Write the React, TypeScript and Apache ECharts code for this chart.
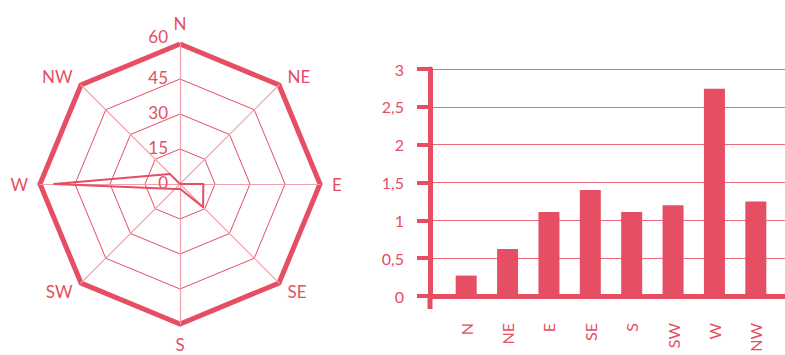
import { useEffect, useRef } from 'react';
import * as echarts from 'echarts';

// Compass sectors, clockwise from north
const directions = ['N', 'NE', 'E', 'SE', 'S', 'SW', 'W', 'NW'];
// Rose values (left panel), same order as directions
const roseValues = [0, 0, 10, 14, 2, 3, 54, 6];
const roseMax = 60;
const roseSplits = 4; // 0, 15, 30, 45, 60
// Bar values (right panel), same order as directions
const barValues = [0.27, 0.62, 1.11, 1.4, 1.11, 1.2, 2.74, 1.25];
const barMin = 0;
const barMax = 3;
const barInterval = 0.5;

const RED = '#e54e63';
const PINK = '#f2a0ab';
const FONT = 'Lato';

// radar indicators run counter-clockwise from the top
const radarOrder = [0, 7, 6, 5, 4, 3, 2, 1];

export default function App() {
  const ref = useRef<HTMLDivElement>(null);

  useEffect(() => {
    document.body.style.margin = '0';
    const chart = echarts.init(ref.current!, undefined, { renderer: 'svg' });

    const tickText = { color: RED, fontFamily: FONT, fontSize: 17 };
    const indicators = radarOrder.map((i, k) => ({
      name: directions[i],
      min: 0,
      max: roseMax,
      ...(k === 0
        ? {
            axisLabel: {
              show: true,
              ...tickText,
              margin: 12,
              formatter: (v: number) => (v === roseMax ? '{top|' + v + '}' : '{t|' + v + '}'),
              rich: {
                t: { ...tickText, padding: [0, 0, 4, 0] },
                top: { ...tickText, padding: [0, 0, 15, 0] },
              },
            },
          }
        : {}),
    }));

    const fmt = (v: number) => String(v).replace('.', ',');

    chart.setOption({
      animation: false,
      textStyle: { fontFamily: FONT },
      radar: [
        {
          center: [180, 184],
          radius: 140,
          startAngle: 90,
          shape: 'polygon',
          splitNumber: roseSplits,
          indicator: indicators,
          axisName: { color: RED, fontFamily: FONT, fontSize: 17 },
          nameGap: 12,
          axisLine: { lineStyle: { color: PINK, width: 1.2 } },
          splitLine: { lineStyle: { color: RED, width: 1 } },
          splitArea: { show: false },
        },
        {
          center: [180, 184],
          radius: 140,
          startAngle: 90,
          shape: 'polygon',
          splitNumber: 1,
          indicator: radarOrder.map(() => ({ name: '', min: 0, max: roseMax })),
          axisName: { show: false },
          axisLine: { show: false },
          splitLine: { lineStyle: { color: RED, width: 5 } },
          splitArea: { show: false },
        },
      ],
      grid: [
        { left: 430, right: 0, top: 69, bottom: 59 },
        { left: 445.5, right: 8.5, top: 69, bottom: 59 },
      ],
      xAxis: [
        {
          gridIndex: 0,
          type: 'category',
          data: directions,
          axisLine: { lineStyle: { color: RED, width: 5 } },
          axisTick: { show: false },
          axisLabel: { show: false },
        },
        {
          gridIndex: 1,
          type: 'category',
          data: directions,
          axisLine: { show: false },
          axisTick: { show: false },
          axisLabel: {
            rotate: 90,
            margin: 27,
            color: RED,
            fontFamily: FONT,
            fontSize: 16,
            interval: 0,
          },
        },
      ],
      yAxis: [
        {
          gridIndex: 0,
          type: 'value',
          min: barMin,
          max: barMax,
          interval: barInterval,
          axisLine: { show: true, lineStyle: { color: RED, width: 5 } },
          axisTick: { show: true, length: 13, lineStyle: { color: RED, width: 4 } },
          axisLabel: { color: RED, fontFamily: FONT, fontSize: 16, margin: 26, formatter: fmt },
          splitLine: { show: true, lineStyle: { color: '#ea6a7c', width: 1 } },
        },
        {
          gridIndex: 1,
          type: 'value',
          min: barMin,
          max: barMax,
          interval: barInterval,
          show: false,
        },
      ],
      series: [
        {
          type: 'radar',
          radarIndex: 0,
          symbol: 'none',
          lineStyle: { color: RED, width: 2 },
          data: [{ value: radarOrder.map((i) => roseValues[i]) }],
        },
        {
          type: 'bar',
          xAxisIndex: 1,
          yAxisIndex: 1,
          barWidth: 21,
          itemStyle: { color: RED },
          data: barValues,
        },
      ],
      graphic: [
        {
          type: 'line',
          shape: { x1: 430, y1: 296, x2: 430, y2: 309 },
          style: { stroke: RED, lineWidth: 5 },
        },
      ],
    });

    return () => chart.dispose();
  }, []);

  return <div ref={ref} style={{ width: 785, height: 355 }} />;
}
